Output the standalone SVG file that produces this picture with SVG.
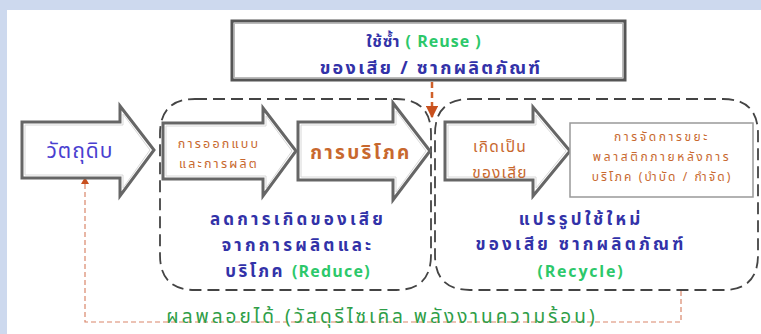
<svg xmlns="http://www.w3.org/2000/svg" width="761" height="334" viewBox="0 0 761 334">
<defs>
<style>
.t{font-family:"Noto Sans Thai","Noto Sans Thai UI","Tahoma","Loma","Garuda","Noto Sans","DejaVu Sans",sans-serif;text-anchor:middle}
.blk{fill:#fff;stroke:#666;stroke-width:3}
.blk2{fill:none;stroke:#d8d8d8;stroke-width:1}
.grp{fill:none;stroke:#444;stroke-width:1.8;stroke-dasharray:12 6}
.loop{fill:none;stroke:#d9866a;stroke-width:1.2;stroke-dasharray:5 3}
.blue{fill:#3232a8;font-weight:bold}
.green{fill:#2cc86a;font-weight:bold}
.orange{fill:#c8682e}
</style>
<marker id="ah" viewBox="0 0 10 10" refX="9" refY="5" markerWidth="5" markerHeight="5" orient="auto">
<path d="M0,0 L10,5 L0,10 Z" fill="#c8501e"/>
</marker>
</defs>
<rect x="0" y="0" width="761" height="334" fill="#cdd9ee"/>
<rect x="7" y="10" width="754" height="324" fill="#fff"/>

<g id="connectors">
<path class="grp" d="M195,99 H396 Q431,99 431,134 V255 Q431,290 396,290 H195 Q160,290 160,255 V134 Q160,99 195,99 Z"/>
<path class="grp" d="M470,99 H723 Q758,99 758,134 V255 Q758,290 723,290 H470 Q435,290 435,255 V134 Q435,99 470,99 Z"/>
<line x1="432" y1="82" x2="432" y2="117" stroke="#d0602a" stroke-width="2.5" stroke-dasharray="6 4" marker-end="url(#ah)"/>
<polyline class="loop" points="681,291 681,322 85,322 85,182"/>
<path d="M81,184 L85,177 L89,184 Z" fill="#c8501e"/>
</g>

<g id="reuse">
<rect x="232" y="21" width="393" height="59" fill="#fff" stroke="#555" stroke-width="3"/>
<rect x="234.5" y="23.5" width="388" height="54" fill="none" stroke="#bbb" stroke-width="1"/>
<text class="t" x="424" y="47" font-size="16" letter-spacing="1"><tspan class="blue">ใช้ซ้ำ</tspan><tspan class="green"> ( Reuse )</tspan></text>
<text class="t blue" x="431" y="74" font-size="18" letter-spacing="2.3">ของเสีย / ซากผลิตภัณฑ์</text>
</g>

<g id="raw">
<path class="blk" d="M22,122 H120 V106 L154,150 L120,196 V178 H22 Z"/>
<path class="blk2" d="M25,125 H123 V114 L150,150 L123,188 V175 H25 Z"/>
<text class="t" x="80" y="158" font-size="21" letter-spacing="1" fill="#4a3fd0">วัตถุดิบ</text>
</g>

<g id="design">
<path class="blk" d="M163,123 H263 V108 L296,151 L263,196 V179 H163 Z"/>
<path class="blk2" d="M166,126 H266 V116 L292,151 L266,188 V176 H166 Z"/>
<text class="t orange" x="219" y="148" font-size="12.5" letter-spacing="2.2">การออกแบบ</text>
<text class="t orange" x="219" y="168" font-size="12.5" letter-spacing="2.2">และการผลิต</text>
</g>

<g id="consume">
<path class="blk" d="M298,122 H393 V103 L430,151 L393,200 V180 H298 Z"/>
<path class="blk2" d="M301,125 H396 V111 L426,151 L396,192 V177 H301 Z"/>
<text class="t orange" x="361" y="159" font-size="19" font-weight="bold" letter-spacing="2.3">การบริโภค</text>
</g>

<g id="waste">
<path class="blk" d="M445,122 H533 V107 L570,151 L533,196 V180 H445 Z"/>
<path class="blk2" d="M448,125 H536 V115 L566,151 L536,188 V177 H448 Z"/>
<text class="t orange" x="500" y="152" font-size="15.5" letter-spacing="1.2">เกิดเป็น</text>
<text class="t orange" x="500" y="178" font-size="15.5" letter-spacing="1.2">ของเสีย</text>
</g>

<g id="dispose">
<rect x="570" y="123" width="183" height="74" fill="#fff" stroke="#999" stroke-width="1.5"/>
<text class="t orange" x="662" y="141" font-size="12" letter-spacing="2.6">การจัดการขยะ</text>
<text class="t orange" x="662" y="161" font-size="12" letter-spacing="2.6">พลาสติกภายหลังการ</text>
<text class="t orange" x="662" y="181" font-size="12" letter-spacing="2.1">บริโภค (บำบัด / กำจัด)</text>
</g>

<g id="reduce">
<text class="t blue" x="298" y="225" font-size="17" letter-spacing="3.2">ลดการเกิดของเสีย</text>
<text class="t blue" x="298" y="251" font-size="17" letter-spacing="3.2">จากการผลิตและ</text>
<text class="t" x="298" y="277" font-size="17" letter-spacing="2.5"><tspan class="blue">บริโภค </tspan><tspan class="green" font-size="16" letter-spacing="1.2">(Reduce)</tspan></text>
</g>

<g id="recycle">
<text class="t blue" x="581" y="225" font-size="17" letter-spacing="3.2">แปรรูปใช้ใหม่</text>
<text class="t blue" x="581" y="250" font-size="17" letter-spacing="3.2">ของเสีย ซากผลิตภัณฑ์</text>
<text class="t green" x="581" y="277" font-size="16" letter-spacing="1.8">(Recycle)</text>
</g>

<g id="byproduct">
<text class="t" x="382" y="323" font-size="19" letter-spacing="3" fill="#2e9e48">ผลพลอยได้ (วัสดุรีไซเคิล พลังงานความร้อน)</text>
</g>
</svg>
